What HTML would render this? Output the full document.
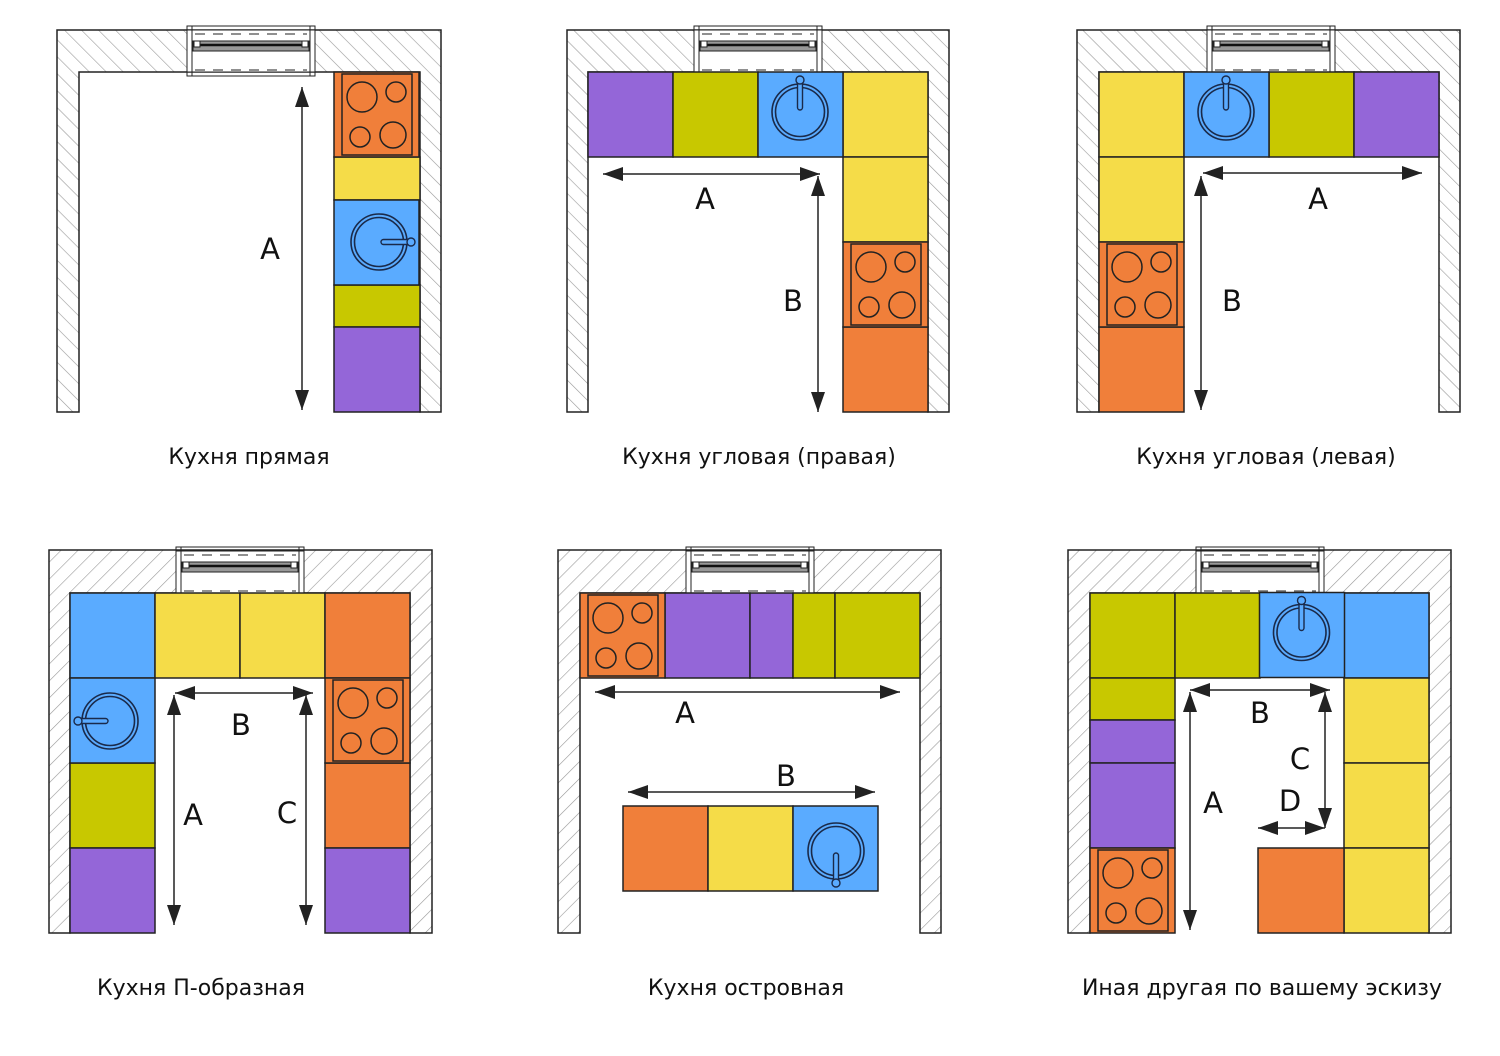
<!DOCTYPE html>
<html><head><meta charset="utf-8"><style>
html,body{margin:0;padding:0;background:#fff;width:1500px;height:1056px;overflow:hidden}
text{font-family:"DejaVu Sans","Liberation Sans",sans-serif}
</style></head><body>
<svg width="1500" height="1056" viewBox="0 0 1500 1056" xmlns="http://www.w3.org/2000/svg">
<defs>
<pattern id="h1" patternUnits="userSpaceOnUse" width="12" height="12" patternTransform="rotate(-45)"><rect width="12" height="12" fill="#fff"/><line x1="0" y1="0" x2="0" y2="12" stroke="#999" stroke-width="1.2"/></pattern>
<pattern id="h2" patternUnits="userSpaceOnUse" width="12" height="12" patternTransform="rotate(45)"><rect width="12" height="12" fill="#fff"/><line x1="0" y1="0" x2="0" y2="12" stroke="#999" stroke-width="1.2"/></pattern>
<marker id="ar" viewBox="0 0 20 14" refX="20" refY="7" markerWidth="20" markerHeight="14" markerUnits="userSpaceOnUse" orient="auto-start-reverse"><path d="M0,0 L20,7 L0,14 Z" fill="#222"/></marker>
<symbol id="stove" viewBox="0 0 85 85" width="85" height="85" overflow="visible">
<rect x="0" y="0" width="85" height="85" fill="#f07f3a" stroke="#222" stroke-width="1.5"/>
<rect x="8" y="2" width="70" height="81" fill="none" stroke="#222" stroke-width="1.5"/>
<circle cx="28" cy="25" r="15" fill="none" stroke="#222" stroke-width="1.5"/>
<circle cx="62" cy="20" r="10" fill="none" stroke="#222" stroke-width="1.5"/>
<circle cx="26" cy="65" r="10" fill="none" stroke="#222" stroke-width="1.5"/>
<circle cx="59" cy="63" r="13" fill="none" stroke="#222" stroke-width="1.5"/>
</symbol>
<symbol id="sink" viewBox="0 0 85 85" width="85" height="85" overflow="visible">
<rect x="0" y="0" width="85" height="85" fill="#5aabff" stroke="#222" stroke-width="1.5"/>
<circle cx="45" cy="42" r="28" fill="none" stroke="#1a2a4a" stroke-width="1.6"/>
<circle cx="45" cy="42" r="24.5" fill="none" stroke="#1a2a4a" stroke-width="1.6"/>
<rect x="47" y="39.5" width="30" height="5" rx="2.5" fill="#5aabff" stroke="#1a2a4a" stroke-width="1.4"/>
<circle cx="77" cy="42" r="4" fill="#5aabff" stroke="#1a2a4a" stroke-width="1.4"/>
</symbol>
<symbol id="win" viewBox="0 0 128 50" width="128" height="50" overflow="visible">
<rect x="0" y="4" width="128" height="42" fill="#fff" stroke="#222" stroke-width="1"/>
<rect x="0" y="0" width="128" height="50" fill="none" stroke="#222" stroke-width="1"/>
<line x1="5" y1="0" x2="5" y2="50" stroke="#222"/><line x1="123" y1="0" x2="123" y2="50" stroke="#222"/>
<line x1="8" y1="8" x2="120" y2="8" stroke="#222" stroke-dasharray="10,8"/>
<line x1="8" y1="44" x2="120" y2="44" stroke="#222" stroke-dasharray="10,8"/>
<rect x="6" y="15" width="116" height="10" fill="#999" stroke="#222"/>
<line x1="10" y1="19" x2="118" y2="19" stroke="#111" stroke-width="2.5"/>
<rect x="7" y="15" width="6" height="6" fill="#fff" stroke="#222"/><rect x="115" y="15" width="6" height="6" fill="#fff" stroke="#222"/>
</symbol>
</defs>

<g stroke="#222" stroke-width="1.5">
<path d="M57,412 V30 H441 V412 H420 V72 H79 V412 Z" fill="url(#h1)"/>
<path d="M567,412 V30 H949 V412 H928 V72 H588 V412 Z" fill="url(#h1)"/>
<path d="M1077,412 V30 H1460 V412 H1439 V72 H1099 V412 Z" fill="url(#h1)"/>
<path d="M49,933 V550 H432 V933 H410 V593 H70 V933 Z" fill="url(#h2)"/>
<path d="M558,933 V550 H941 V933 H920 V593 H580 V933 Z" fill="url(#h2)"/>
<path d="M1068,933 V550 H1451 V933 H1429 V593 H1090 V933 Z" fill="url(#h2)"/>
</g>
<use href="#win" x="187" y="26"/>
<use href="#win" x="694" y="26"/>
<use href="#win" x="1207" y="26"/>
<use href="#win" x="176" y="547"/>
<use href="#win" x="686" y="547"/>
<use href="#win" x="1196" y="547"/>

<g stroke="#222" stroke-width="1.5">
<rect x="334" y="157" width="86" height="43" fill="#f5dc48"/>
<rect x="334" y="285" width="86" height="42" fill="#c8c800"/>
<rect x="334" y="327" width="86" height="85" fill="#9466d8"/>
<rect x="588" y="72" width="85" height="85" fill="#9466d8"/>
<rect x="673" y="72" width="85" height="85" fill="#c8c800"/>
<rect x="843" y="72" width="85" height="85" fill="#f5dc48"/>
<rect x="843" y="157" width="85" height="85" fill="#f5dc48"/>
<rect x="843" y="327" width="85" height="85" fill="#f07f3a"/>
<rect x="1099" y="72" width="85" height="85" fill="#f5dc48"/>
<rect x="1269" y="72" width="85" height="85" fill="#c8c800"/>
<rect x="1354" y="72" width="85" height="85" fill="#9466d8"/>
<rect x="1099" y="157" width="85" height="85" fill="#f5dc48"/>
<rect x="1099" y="327" width="85" height="85" fill="#f07f3a"/>
<rect x="70" y="593" width="85" height="85" fill="#5aabff"/>
<rect x="155" y="593" width="85" height="85" fill="#f5dc48"/>
<rect x="240" y="593" width="85" height="85" fill="#f5dc48"/>
<rect x="325" y="593" width="85" height="85" fill="#f07f3a"/>
<rect x="70" y="763" width="85" height="85" fill="#c8c800"/>
<rect x="70" y="848" width="85" height="85" fill="#9466d8"/>
<rect x="325" y="763" width="85" height="85" fill="#f07f3a"/>
<rect x="325" y="848" width="85" height="85" fill="#9466d8"/>
<rect x="665" y="593" width="85" height="85" fill="#9466d8"/>
<rect x="750" y="593" width="43" height="85" fill="#9466d8"/>
<rect x="793" y="593" width="42" height="85" fill="#c8c800"/>
<rect x="835" y="593" width="85" height="85" fill="#c8c800"/>
<rect x="623" y="806" width="85" height="85" fill="#f07f3a"/>
<rect x="708" y="806" width="85" height="85" fill="#f5dc48"/>
<rect x="1090" y="593" width="85" height="85" fill="#c8c800"/>
<rect x="1175" y="593" width="85" height="85" fill="#c8c800"/>
<rect x="1344" y="593" width="85" height="85" fill="#5aabff"/>
<rect x="1090" y="678" width="85" height="42" fill="#c8c800"/>
<rect x="1090" y="720" width="85" height="43" fill="#9466d8"/>
<rect x="1090" y="763" width="85" height="85" fill="#9466d8"/>
<rect x="1344" y="678" width="85" height="85" fill="#f5dc48"/>
<rect x="1344" y="763" width="85" height="85" fill="#f5dc48"/>
<rect x="1344" y="848" width="85" height="85" fill="#f5dc48"/>
<rect x="1258" y="848" width="86" height="85" fill="#f07f3a"/>
</g>
<use href="#stove" x="334" y="72"/>
<use href="#stove" x="843" y="242"/>
<use href="#stove" x="1099" y="242"/>
<use href="#stove" x="325" y="678"/>
<use href="#stove" x="580" y="593"/>
<use href="#stove" x="1090" y="848"/>
<use href="#sink" x="334" y="200"/>
<use href="#sink" x="758" y="72" transform="rotate(-90 800.5 114.5)"/>
<use href="#sink" x="1184" y="72" transform="rotate(-90 1226.5 114.5)"/>
<use href="#sink" x="70" y="678" transform="rotate(180 112.5 720.5)"/>
<use href="#sink" x="793" y="806" transform="rotate(90 835.5 848.5)"/>
<use href="#sink" x="1260" y="593" transform="rotate(-90 1302 635.5)"/>

<g stroke="#222" stroke-width="1.5" marker-start="url(#ar)" marker-end="url(#ar)" fill="none">
<line x1="302" y1="87" x2="302" y2="410"/>
<line x1="603" y1="174" x2="820" y2="174"/>
<line x1="818" y1="176" x2="818" y2="412"/>
<line x1="1203" y1="173" x2="1422" y2="173"/>
<line x1="1201" y1="176" x2="1201" y2="410"/>
<line x1="175" y1="693" x2="313" y2="693"/>
<line x1="174" y1="695" x2="174" y2="925"/>
<line x1="306" y1="695" x2="306" y2="925"/>
<line x1="595" y1="692" x2="900" y2="692"/>
<line x1="628" y1="792" x2="875" y2="792"/>
<line x1="1190" y1="690" x2="1330" y2="690"/>
<line x1="1190" y1="692" x2="1190" y2="930"/>
<line x1="1325" y1="692" x2="1325" y2="828"/>
<line x1="1258" y1="828" x2="1325" y2="828"/>
</g>

<g font-size="29" fill="#111" text-anchor="middle">
<text x="270" y="259">A</text>
<text x="705" y="209">A</text>
<text x="793" y="311">B</text>
<text x="1318" y="209">A</text>
<text x="1232" y="311">B</text>
<text x="241" y="735">B</text>
<text x="193" y="825">A</text>
<text x="287" y="823">C</text>
<text x="685" y="723">A</text>
<text x="786" y="786">B</text>
<text x="1260" y="723">B</text>
<text x="1213" y="813">A</text>
<text x="1300" y="769">C</text>
<text x="1290" y="811">D</text>
</g>
<g font-size="22" fill="#111" text-anchor="middle">
<text x="249" y="464">Кухня прямая</text>
<text x="759" y="464">Кухня угловая (правая)</text>
<text x="1266" y="464">Кухня угловая (левая)</text>
<text x="201" y="995">Кухня П-образная</text>
<text x="746" y="995">Кухня островная</text>
<text x="1262" y="995">Иная другая по вашему эскизу</text>
</g>
</svg>
</body></html>
